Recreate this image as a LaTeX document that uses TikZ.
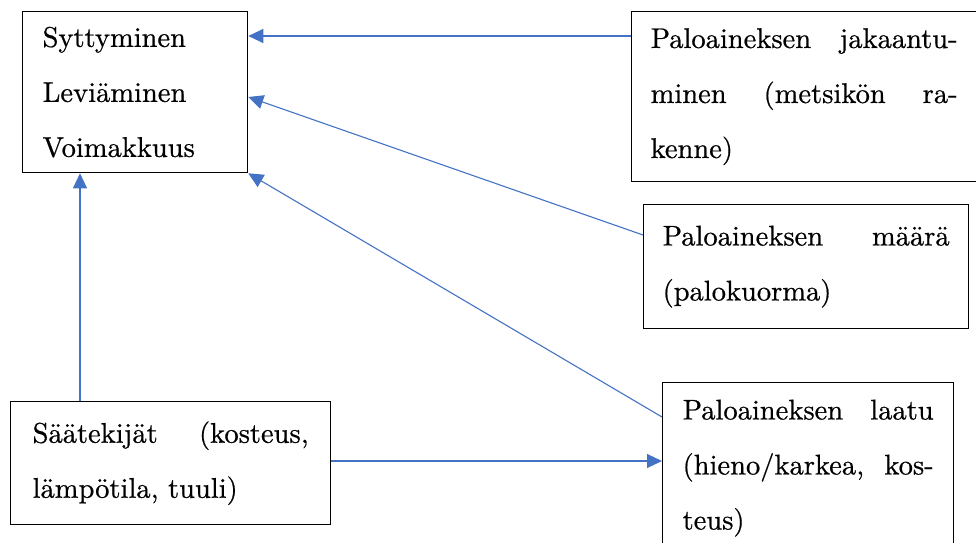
\documentclass[tikz,border=0pt]{standalone}
\usepackage{fontspec}
\newfontfamily\boxfont{lmroman10-regular.otf}[FakeBold=0.6]
\usepackage{xcolor}
\usepackage{tikz}
\usetikzlibrary{arrows.meta,positioning,calc}
\definecolor{fireblue}{RGB}{68, 114, 196}

\begin{document}
\begin{tikzpicture}[x=1pt, y=1pt,
    factor/.style={draw=black, line width=1.3pt, rectangle, anchor=north west, align=left, inner xsep=19pt, inner ysep=0pt, font=\boxfont\fontsize{28.5pt}{55pt}\selectfont},
    link/.style={-{Triangle[length=15pt,width=14pt]}, line width=1.1pt, fireblue}]
    \useasboundingbox (0,0) rectangle (976,542);
    \node [factor, inner xsep=20pt, text width=185pt, minimum height=161pt] (effect) at (22,531) {Syttyminen\\Leviäminen\\Voimakkuus};
    \node [factor, text width=307pt, minimum height=170pt] (structure) at (631,531) {Paloaineksen\hfill jakaantu-\\minen\hfill (metsikön\hfill ra-\\kenne)};
    \node [factor, text width=287pt, minimum height=124pt] (amount) at (643,338) {Paloaineksen\hfill määrä\\(palokuorma)};
    \node [factor, inner xsep=20pt, text width=251pt, minimum height=171pt] (quality) at (662,160) {Paloaineksen\hfill laatu\\(hieno/karkea,\hfill kos-\\teus)};
    \node [factor, inner xsep=22pt, text width=276pt, minimum height=123pt] (weather) at (10,141) {Säätekijät\hfill (kosteus,\\lämpötila, tuuli)};

    % inputs to the fire behaviour box
    \coordinate (fromstructure) at ([yshift=-25pt]structure.north west);
    \draw [link] (fromstructure) -- (fromstructure -| effect.east);
    \draw [link] ([yshift=-31pt]amount.north west) -- ([yshift=-86pt]effect.north east);
    \draw [link] ([yshift=-35pt]quality.north west) -- (effect.south east);
    \coordinate (fromweather) at ([xshift=70pt]weather.north west);
    \draw [link] (fromweather) -- (fromweather |- effect.south);

    % weather acts on fuel quality
    \coordinate (toquality) at ([yshift=-60pt]weather.north east);
    \draw [link] (toquality) -- (toquality -| quality.west);
\end{tikzpicture}
\end{document}
